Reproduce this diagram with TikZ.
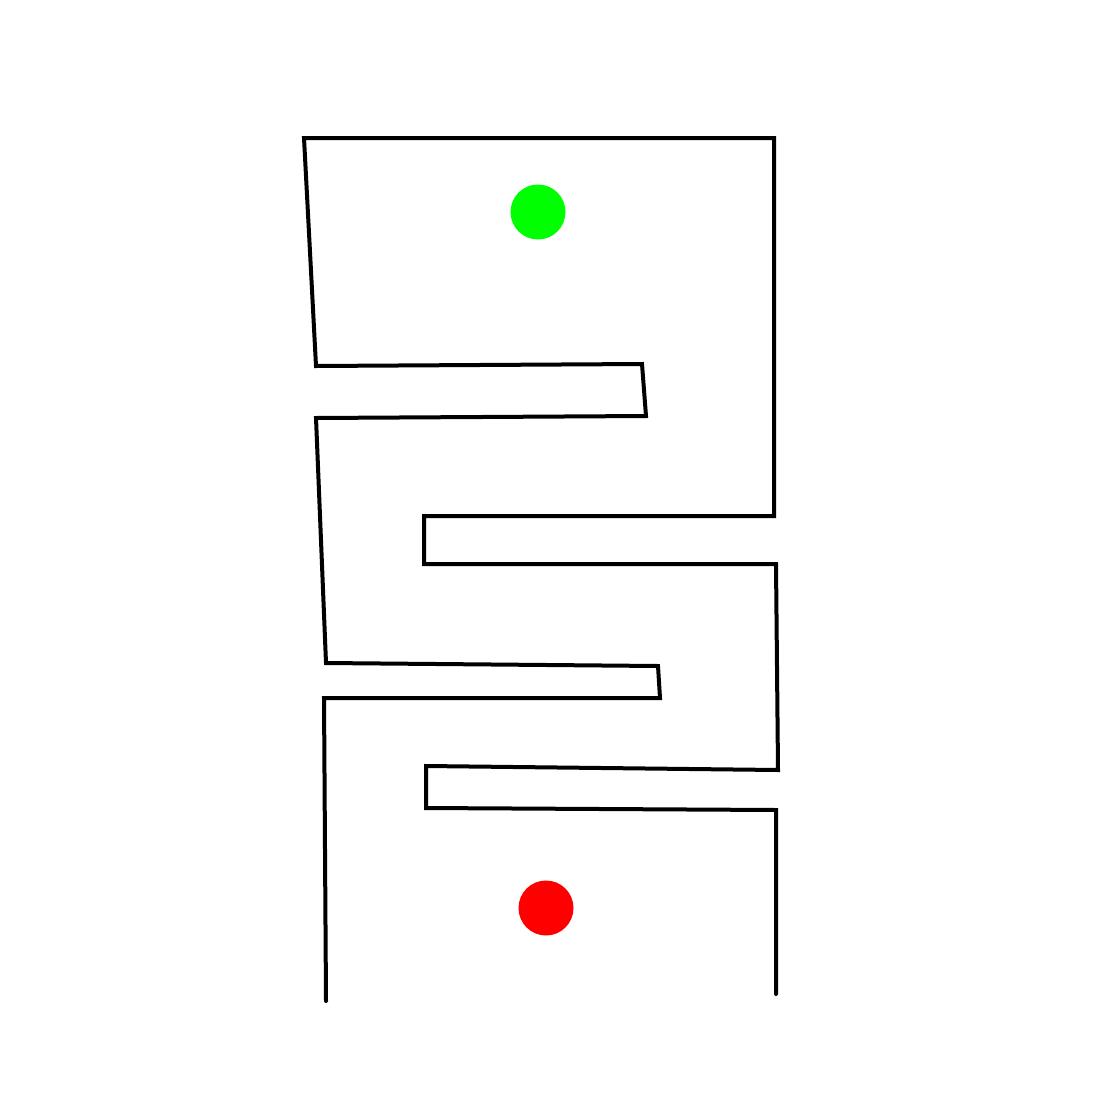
\documentclass[tikz,border=0pt]{standalone}
\begin{document}
\begin{tikzpicture}[x=1pt,y=-1pt,wall/.style={draw=black,line width=4pt,line join=miter,line cap=round}]
\useasboundingbox (0,0) rectangle (1100,1100);
\draw[wall] (326,1001) -- (324,698) -- (660,698) -- (658,666) -- (326,663) -- (316,418) -- (646,416) -- (642,364) -- (316,366) -- (304,138) -- (774,138) -- (774,516) -- (424,516) -- (424,564) -- (776,564) -- (778,770) -- (426,766) -- (426,808) -- (776,810) -- (776,994);
\fill[green!100] (538,212) circle (27.5);
\fill[red] (546,908) circle (27.5);
\end{tikzpicture}
\end{document}
